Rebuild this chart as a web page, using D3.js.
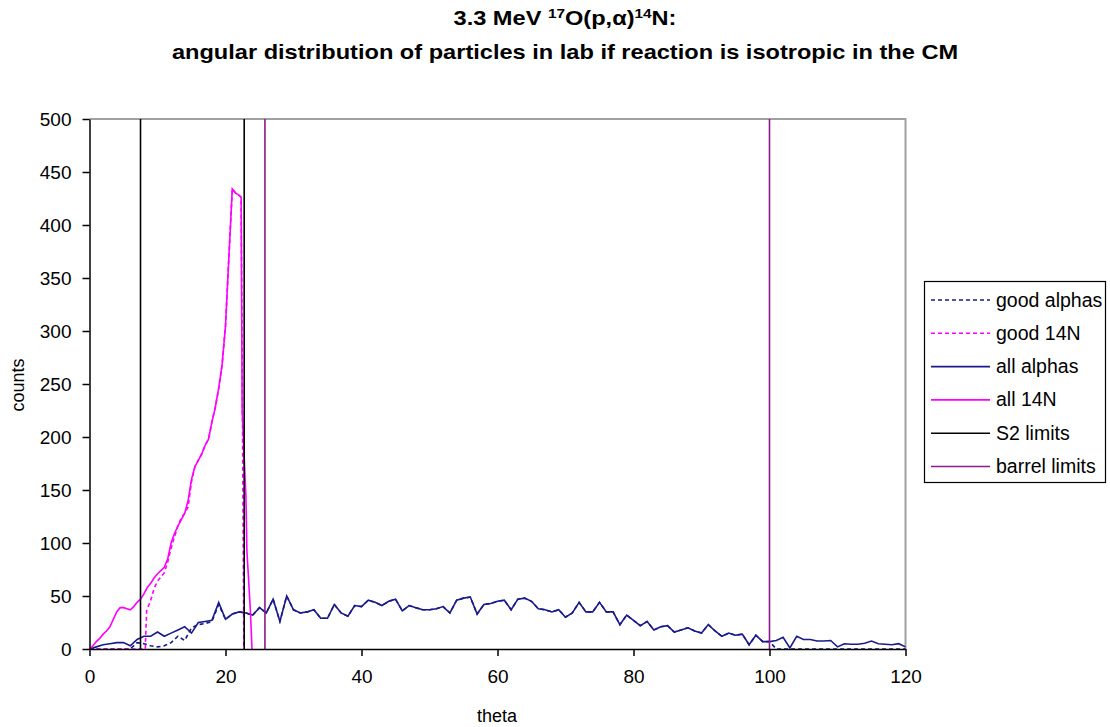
<!DOCTYPE html>
<html>
<head>
<meta charset="utf-8">
<script src="https://cdn.jsdelivr.net/npm/d3@7"></script>
<style>
  body { margin: 0; background: #fff; }
  text { font-family: "Liberation Sans", Arial, sans-serif; }
</style>
</head>
<body>
<svg id="chart" width="1110" height="727"></svg>
<script>
// theta bins for the alpha series (1 degree)
var alphaTheta = d3.range(0, 121);

var allAlphas = [0, 2, 4, 5, 6, 6, 3, 9, 12, 12,
  16, 12, 15, 18, 21, 15, 25, 26, 27, 44,
  28, 33, 35, 34, 32, 39, 34, 47, 26, 50,
  37, 34, 35, 37, 29, 29, 42, 34, 31, 41,
  40, 46, 44, 41, 45, 47, 36, 41, 39, 37,
  37, 38, 40, 34, 46, 48, 49, 33, 42, 43,
  45, 46, 37, 47, 48, 45, 38, 37, 35, 37,
  30, 34, 44, 35, 35, 44, 35, 35, 23, 32,
  27, 22, 26, 18, 21, 22, 16, 18, 20, 17,
  15, 23, 17, 12, 15, 13, 14, 4, 13, 7,
  7, 8, 11, 1, 12, 9, 9, 7.5, 7.5, 8,
  2, 5, 4.5, 4.5, 5.5, 7.5, 5, 4.5, 4, 5,
  2];

var goodAlphas = [0, 0, 0, 0, 0, 0, 0, 6, 5, 3,
  2, 3, 6, 12, 8, 20, 23, 24, 26, 42,
  28, 33, 35, 34, 32, 39, 34, 47, 26, 50,
  37, 34, 35, 37, 29, 29, 42, 34, 31, 41,
  40, 46, 44, 41, 45, 47, 36, 41, 39, 37,
  37, 38, 40, 34, 46, 48, 49, 33, 42, 43,
  45, 46, 37, 47, 48, 45, 38, 37, 35, 37,
  30, 34, 44, 35, 35, 44, 35, 35, 23, 32,
  27, 22, 26, 18, 21, 22, 16, 18, 20, 17,
  15, 23, 17, 12, 15, 13, 14, 4, 13, 7,
  7, 0, 0, 0, 0, 0, 0, 0, 0, 0,
  0, 0, 0, 0, 0, 0, 0, 0, 0, 0,
  0];

// 14N series (finer bins near the forward peak)
var all14NTheta = [0, 0.5, 1, 1.5, 2, 2.5, 3, 3.5, 4, 4.5,
  5, 5.5, 6, 6.5, 7, 7.5, 8, 8.5, 9, 9.5,
  10, 10.5, 11, 11.5, 12, 12.5, 13, 13.5, 14, 14.5,
  15, 15.5, 16, 16.5, 17, 17.5, 18, 18.5, 19, 19.5,
  20, 20.5, 21, 21.5, 22, 22.3, 22.45, 23, 23.15, 23.4,
  23.65, 23.9];
var all14N = [0, 3, 7, 10, 14, 17, 21, 28, 35, 39,
  39, 38, 37, 40, 44, 47, 52, 58, 62, 67,
  71, 74, 77, 85, 100, 109, 116, 122, 128, 140,
  160, 172, 178, 184, 192, 198, 214, 228, 246, 268,
  305, 370, 434, 430, 428, 426, 225, 144, 92, 65,
  37, 0];

var good14NTheta = [0, 8.2, 8.4, 9, 9.5, 10, 10.5, 11, 11.5, 12,
  12.5, 13, 13.5, 14, 14.5, 15, 15.5, 16, 16.5, 17,
  17.5, 18, 18.5, 19, 19.5, 20, 20.5, 21, 21.5, 22,
  22.3, 22.7];
var good14N = [0, 0, 36, 46, 57, 64, 68, 72, 82, 95,
  106, 116, 124, 128, 134, 158, 172, 178, 184, 192,
  198, 214, 228, 246, 268, 305, 370, 434, 430, 428,
  426, 0];

var s2Limits = [7.5, 22.75];
var barrelLimits = [25.8, 100];

var xTicks = [0, 20, 40, 60, 80, 100, 120];
var yTicks = [0, 50, 100, 150, 200, 250, 300, 350, 400, 450, 500];

var legendNames = ["good alphas", "good 14N", "all alphas", "all 14N", "S2 limits", "barrel limits"];
var legendColors = ["#1a1a8c", "#ff00ff", "#1a1a8c", "#ff00ff", "#000000", "#8b1a8b"];
var legendDash = [true, true, false, false, false, false];

var svg = d3.select("#chart");

var x = d3.scaleLinear().domain([0, 120]).range([89.5, 905.5]);
var y = d3.scaleLinear().domain([0, 500]).range([649, 119]);

// frame (top/right grey like excel plot area)
svg.append("path")
  .attr("d", "M" + x(0) + "," + y(500) + "H" + x(120) + "V" + y(0))
  .attr("fill", "none")
  .attr("stroke", "#a0a0a0")
  .attr("stroke-width", 2);

function drawSeries(xs, ys, color, dashed) {
  var pts = xs.map(function(t, i) { return [t, ys[i]]; });
  var line = d3.line()
    .x(function(d) { return x(d[0]); })
    .y(function(d) { return y(d[1]); });
  svg.append("path")
    .datum(pts)
    .attr("d", line)
    .attr("fill", "none")
    .attr("stroke", color)
    .attr("stroke-width", 1.6)
    .attr("stroke-dasharray", dashed ? "4,3" : null);
}

drawSeries(alphaTheta, goodAlphas, legendColors[0], true);
drawSeries(good14NTheta, good14N, legendColors[1], true);
drawSeries(alphaTheta, allAlphas, legendColors[2], false);
drawSeries(all14NTheta, all14N, legendColors[3], false);

s2Limits.forEach(function(t) {
  drawSeries([t, t], [0, 500], legendColors[4], false);
});
barrelLimits.forEach(function(t) {
  drawSeries([t, t], [0, 500], legendColors[5], false);
});

// axes
var xAxis = d3.axisBottom(x).tickValues(xTicks).tickSize(7).tickSizeOuter(0).tickPadding(14);
var yAxis = d3.axisLeft(y).tickValues(yTicks).tickSize(7).tickSizeOuter(0).tickPadding(11);

var gx = svg.append("g")
  .attr("transform", "translate(0," + y(0) + ")")
  .call(xAxis);
var gy = svg.append("g")
  .attr("transform", "translate(" + x(0) + ",0)")
  .call(yAxis);

[gx, gy].forEach(function(g) {
  g.select(".domain").attr("stroke", "#000").attr("stroke-width", 1.5);
  g.selectAll(".tick line").attr("stroke", "#000").attr("stroke-width", 1.5);
  g.selectAll(".tick text")
    .attr("fill", "#000")
    .style("font-family", "'Liberation Sans', Arial, sans-serif")
    .style("font-size", "19px");
});

// axis titles
svg.append("text")
  .attr("x", 497)
  .attr("y", 722)
  .attr("text-anchor", "middle")
  .style("font-size", "18px")
  .text("theta");

svg.append("text")
  .attr("transform", "translate(24,385) rotate(-90)")
  .attr("text-anchor", "middle")
  .style("font-size", "18px")
  .text("counts");

// title, stretched a bit wider like the original
var title = svg.append("g")
  .attr("transform", "translate(565,0) scale(1.18,1)");

var t1 = title.append("text")
  .attr("x", 0)
  .attr("y", 25)
  .attr("text-anchor", "middle")
  .style("font-size", "20px")
  .style("font-weight", "bold");
t1.append("tspan").text("3.3 MeV ");
t1.append("tspan").attr("dy", -7).style("font-size", "13px").text("17");
t1.append("tspan").attr("dy", 7).text("O(p,\u03b1)");
t1.append("tspan").attr("dy", -7).style("font-size", "13px").text("14");
t1.append("tspan").attr("dy", 7).text("N:");

title.append("text")
  .attr("x", 0)
  .attr("y", 59)
  .attr("text-anchor", "middle")
  .style("font-size", "20px")
  .style("font-weight", "bold")
  .text("angular distribution of particles in lab if reaction is isotropic in the CM");

// legend
var lg = svg.append("g");
lg.append("rect")
  .attr("x", 924.5)
  .attr("y", 281.5)
  .attr("width", 181)
  .attr("height", 201)
  .attr("fill", "#fff")
  .attr("stroke", "#000")
  .attr("stroke-width", 1.2);

legendNames.forEach(function(name, i) {
  var cy = 300 + i * 33.3;
  lg.append("line")
    .attr("x1", 931)
    .attr("x2", 990)
    .attr("y1", cy)
    .attr("y2", cy)
    .attr("stroke", legendColors[i])
    .attr("stroke-width", 1.6)
    .attr("stroke-dasharray", legendDash[i] ? "4,3" : null);
  lg.append("text")
    .attr("x", 996)
    .attr("y", cy + 6.5)
    .style("font-size", "19.5px")
    .text(name);
});
</script>
</body>
</html>
